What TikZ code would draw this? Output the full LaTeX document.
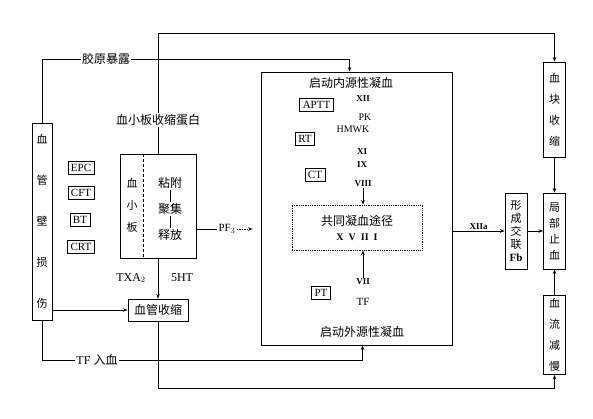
\documentclass[tikz,border=0pt]{standalone}
\usepackage{fontspec}
\setmainfont{Liberation Serif}
\newfontfamily\cjk{Noto Sans CJK SC}
\usetikzlibrary{arrows.meta,positioning,calc}

\begin{document}
\begin{tikzpicture}[x=1pt,y=-1pt,>={Stealth[length=4.5pt,width=3.5pt]},line width=0.7pt]
  \tikzset{frame/.style={draw,line width=0.9pt,inner sep=0pt},
    vbox/.style={frame,minimum width=22pt,align=center,font=\cjk\fontsize{11}{#1}\selectfont},
    testbox/.style={draw,line width=0.8pt,inner sep=3pt,font=\fontsize{11}{12}\selectfont},
    cn/.style={inner sep=1pt,font=\cjk\fontsize{12}{14}\selectfont},
    fac/.style={inner sep=1pt,font=\fontsize{10}{11}\selectfont},
    roman/.style={inner sep=1pt,font=\bfseries\fontsize{9}{10}\selectfont}}

  \useasboundingbox (0,0) rectangle (593,418);

  % vessel wall and platelets
  \node[vbox=41,minimum width=20pt,minimum height=197pt] (vessel) at (42,221.5) {血\\管\\壁\\损\\伤};
  \node[frame,minimum width=76pt,minimum height=104pt] (platelet) at (158,206) {};
  \draw[densely dashed,line width=0.5pt] ($(platelet.north west)+(24,0)$) -- ($(platelet.south west)+(24,0)$);
  \node[cn,align=center,font=\cjk\fontsize{11}{22}\selectfont] (xiaoban) at (132,205) {血\\小\\板};
  \node[cn] (nianfu) at (170,183) {粘附};
  \node[cn] (juji) at (170,209) {聚集};
  \node[cn] (shifang) at (170,235) {释放};
  \draw (nianfu) -- (juji);
  \draw (juji) -- (shifang);

  \node[cn] (shousuo) at (158,120) {血小板收缩蛋白};
  \node[cn] (collagen) at (106,59) {胶原暴露};
  \node[cn] (tfin) at (97,360) {\rmfamily TF\ \cjk 入血};

  \node[testbox] (epc) at (81,168) {EPC};
  \node[testbox] (cft) at (81,193) {CFT};
  \node[testbox] (bt) at (80,220) {BT};
  \node[testbox] (crt) at (81,247) {CRT};

  \node[fac,font=\fontsize{12}{13}\selectfont] (txa) at (131,278) {TXA$_2$};
  \node[fac,font=\fontsize{12}{13}\selectfont] (sht) at (182,278) {5HT};
  \node[frame,cn,minimum width=60pt,minimum height=22pt] (vasocon) at (158,310) {血管收缩};
  \node[fac,font=\fontsize{11}{12}\selectfont] (pf3) at (227,229) {PF$_3$};

  % coagulation
  \node[frame,minimum width=191pt,minimum height=273pt] (bigbox) at (356.5,208.5) {};
  \node[cn] (intrinsic) at (351,83) {启动内源性凝血};
  \node[roman] (f12) at (363,99) {XII};
  \node[fac] (pk) at (365,117) {PK};
  \node[fac] (hmwk) at (353,129) {HMWK};
  \node[roman] (f11) at (362,152) {XI};
  \node[roman] (f9) at (362,165) {IX};
  \node[roman] (f8) at (363,184) {VIII};
  \node[testbox] (aptt) at (316.5,105) {APTT};
  \node[testbox] (rt) at (305,139) {RT};
  \node[testbox] (ct) at (315,175) {CT};

  \node[draw,densely dotted,line width=0.8pt,minimum width=130pt,minimum height=45pt,align=center] (common) at (357,227.5)
    {{\cjk\fontsize{12}{14}\selectfont 共同凝血途径}\\[3pt]{\bfseries\fontsize{10}{11}\selectfont X\ \ V\ \ II\ \ I}};

  \node[roman] (f7) at (363,282) {VII};
  \node[testbox] (pt) at (321,293) {PT};
  \node[fac,font=\fontsize{11}{12}\selectfont] (tf) at (363,302) {TF};
  \node[cn] (extrinsic) at (362,332) {启动外源性凝血};

  % haemostasis column
  \node[vbox=13,minimum height=76pt] (fibrin) at (516,231) {形\\成\\交\\联\\{\rmfamily\bfseries Fb}};
  \node[vbox=21,minimum height=95pt] (clot) at (554.5,109.5) {血\\块\\收\\缩};
  \node[vbox=16,minimum height=76pt] (local) at (554.5,231) {局\\部\\止\\血};
  \node[vbox=21,minimum height=79pt] (slow) at (554.5,335) {血\\流\\减\\慢};

  \coordinate (retrtop) at (158,33);

  \draw (shousuo.south) -- (platelet.north);
  \draw[->] (shousuo.north) -- (retrtop) -| (clot.north);
  \draw (vessel.north) |- (collagen.west);
  \draw[->] (collagen.east) -| ($(bigbox.north west)+(89,0)$);
  \draw (vessel.south) |- (tfin.west);
  \draw[->] (tfin.east) -| ($(bigbox.south west)+(102,0)$);
  \draw[->] (platelet.south) -- (vasocon.north);
  \draw[->] (vessel.east |- vasocon) -- (vasocon.west);
  \draw[->] (vasocon.south) |- ($(slow.south)+(0,13)$) -- (slow.south);
  \draw (platelet.east |- pf3) -- (pf3.west);
  \draw[->,densely dotted,shorten >=8pt] (pf3.east) -- (bigbox.west |- pf3);
  \draw[->] (f8) -- (f8 |- common.north);
  \draw[->] (f7) -- (f7 |- common.south);
  \draw[->] (bigbox.east |- fibrin) -- node[above,roman] {XIIa} (fibrin.west);
  \draw[->] (fibrin) -- (local);
  \draw[->] (clot) -- (local);
  \draw[->] (slow) -- (local);
\end{tikzpicture}
\end{document}
